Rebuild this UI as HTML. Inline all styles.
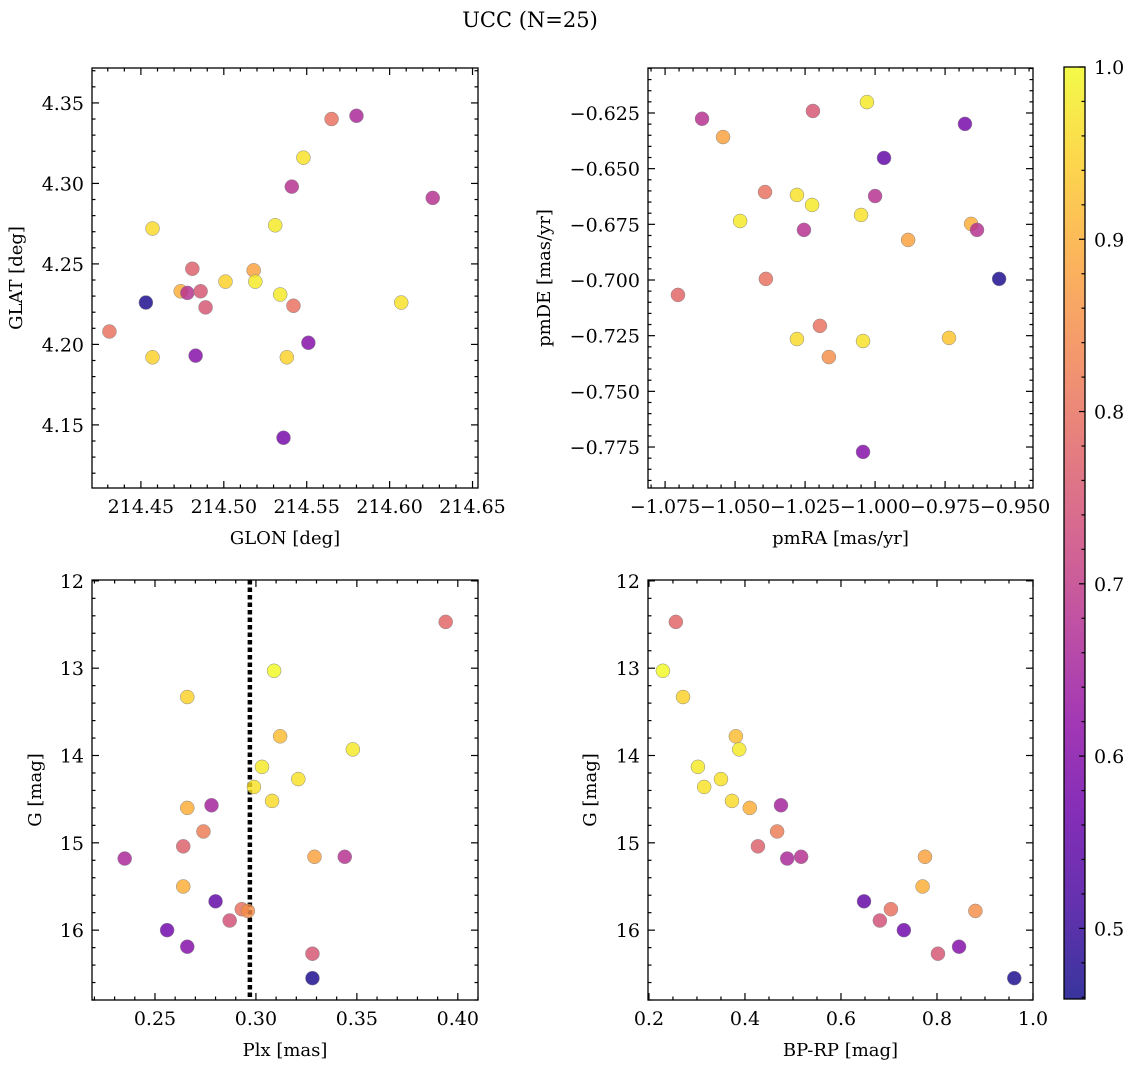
<!DOCTYPE html>
<html><head><meta charset="utf-8"><style>
body{margin:0;background:#fff}
svg{display:block;font-family:"DejaVu Serif","Liberation Serif",serif}
</style></head><body>
<svg id="fig" width="1136" height="1067" viewBox="0 0 1136 1067" xmlns="http://www.w3.org/2000/svg">
<defs><linearGradient id="cbg" x1="0" y1="1" x2="0" y2="0"></linearGradient></defs>
<text x="530" y="27" font-size="21" text-anchor="middle">UCC (N=25)</text>
</svg>
<script>
// ---- data ----
const glon=[214.580,214.565,214.548,214.541,214.626,214.457,214.531,214.481,214.518,214.501,214.519,214.474,214.478,214.486,214.534,214.453,214.607,214.542,214.489,214.431,214.457,214.483,214.538,214.551,214.536];
const glat=[4.342,4.340,4.316,4.298,4.291,4.272,4.274,4.247,4.246,4.239,4.239,4.233,4.232,4.233,4.231,4.226,4.226,4.224,4.223,4.208,4.192,4.193,4.192,4.201,4.142];
const probPos=[0.66,0.80,0.97,0.68,0.68,0.96,0.98,0.77,0.88,0.95,0.98,0.90,0.68,0.75,0.98,0.47,0.97,0.80,0.75,0.80,0.95,0.60,0.95,0.60,0.58];
const pmra=[-1.0029,-1.0618,-1.0222,-1.0543,-0.9679,-0.9968,-1.0393,-1.0279,-1.0225,-1.0000,-1.0482,-1.0050,-0.9657,-1.0254,-0.9636,-0.9882,-1.0390,-0.9557,-1.0704,-1.0197,-1.0279,-0.9736,-1.0165,-1.0043,-1.0043];
const pmde=[-0.6201,-0.6276,-0.6241,-0.6358,-0.6299,-0.6452,-0.6605,-0.6618,-0.6663,-0.6623,-0.6735,-0.6708,-0.6748,-0.6775,-0.6775,-0.6820,-0.6995,-0.6995,-0.7067,-0.7206,-0.7265,-0.7260,-0.7346,-0.7274,-0.7772];
const probPm=[0.98,0.68,0.75,0.88,0.58,0.55,0.80,0.97,0.98,0.68,0.98,0.97,0.90,0.68,0.68,0.88,0.80,0.47,0.78,0.80,0.96,0.93,0.85,0.97,0.60];
const plx=[0.394,0.309,0.266,0.312,0.348,0.303,0.321,0.299,0.308,0.278,0.266,0.274,0.264,0.344,0.329,0.235,0.264,0.280,0.293,0.296,0.287,0.256,0.266,0.328,0.328];
const gmag=[12.47,13.03,13.33,13.78,13.93,14.13,14.27,14.36,14.52,14.57,14.60,14.87,15.04,15.16,15.16,15.18,15.50,15.67,15.76,15.78,15.89,16.00,16.19,16.27,16.55];
const bprp=[0.256,0.229,0.271,0.381,0.388,0.302,0.350,0.315,0.373,0.475,0.410,0.467,0.427,0.517,0.775,0.488,0.770,0.648,0.704,0.880,0.681,0.731,0.846,0.802,0.961];
const probPhot=[0.78,1.0,0.95,0.92,0.98,0.98,0.97,0.97,0.96,0.65,0.90,0.82,0.77,0.68,0.88,0.66,0.90,0.55,0.80,0.85,0.74,0.57,0.60,0.75,0.47];
const plxLine=0.297;
const vmin=0.459, vmax=1.0;

const NS="http://www.w3.org/2000/svg";
const svg=document.getElementById('fig');
function el(tag,attrs,parent){const e=document.createElementNS(NS,tag);for(const k in attrs)e.setAttribute(k,attrs[k]);(parent||svg).appendChild(e);return e;}
const stops=[[13,8,135],[65,4,157],[106,0,168],[143,13,164],[177,42,144],[204,71,120],[225,100,98],[242,132,75],[252,166,54],[252,206,37],[240,249,33]];
function plasma(v){let t=(v-vmin)/(vmax-vmin);t=Math.max(0,Math.min(1,t))*10;const i=Math.min(9,Math.floor(t)),f=t-i;const a=stops[i],b=stops[i+1];return 'rgb('+a.map((c,k)=>Math.round(c+(b[k]-c)*f)).join(',')+')';}
function fmt(v,d){let s=v.toFixed(d);if(v<-1e-9)s='\u2212'+s.slice(1);return s;}

function panel(o){
  const g=el('g',{});
  
  
  const X=v=>o.x0+(v-o.xmin)/(o.xmax-o.xmin)*(o.x1-o.x0);
  const Y=v=>o.inv? o.y0+(v-o.ymin)/(o.ymax-o.ymin)*(o.y1-o.y0) : o.y1-(v-o.ymin)/(o.ymax-o.ymin)*(o.y1-o.y0);
  const eps=1e-9;
  for(let v=Math.ceil(o.xmin/o.xminor-eps)*o.xminor;v<=o.xmax+eps;v+=o.xminor){
    const px=X(v);const maj=Math.abs(v/o.xmajor-Math.round(v/o.xmajor))<1e-6;const L=maj?7:3.5;
    el('line',{x1:px,x2:px,y1:o.y1,y2:o.y1-L,stroke:'#000','stroke-width':1.2},g);
    el('line',{x1:px,x2:px,y1:o.y0,y2:o.y0+L,stroke:'#000','stroke-width':1.2},g);
    if(maj){const t=el('text',{x:px,y:o.y1+25,'font-size':19,'text-anchor':'middle'},g);t.textContent=fmt(v,o.xd);}
  }
  for(let v=Math.ceil(o.ymin/o.yminor-eps)*o.yminor;v<=o.ymax+eps;v+=o.yminor){
    const py=Y(v);const maj=Math.abs(v/o.ymajor-Math.round(v/o.ymajor))<1e-6;const L=maj?7:3.5;
    el('line',{x1:o.x0,x2:o.x0+L,y1:py,y2:py,stroke:'#000','stroke-width':1.2},g);
    el('line',{x1:o.x1,x2:o.x1-L,y1:py,y2:py,stroke:'#000','stroke-width':1.2},g);
    if(maj){const t=el('text',{x:o.x0-8,y:py+7,'font-size':19,'text-anchor':'end'},g);t.textContent=fmt(v,o.yd);}
  }
  if(o.vline!==undefined){const l=el('line',{x1:X(o.vline),x2:X(o.vline),y1:o.y0,y2:o.y1,stroke:'#000','stroke-width':4.5,'stroke-dasharray':'4.5,3'},g);}
  for(let i=0;i<o.xs.length;i++){
    const c=el('circle',{cx:X(o.xs[i]),cy:Y(o.ys[i]),r:7,fill:plasma(o.cs[i]),'fill-opacity':0.82,stroke:'#888','stroke-width':0.5},g);
    
    
  }
  const fr=el('rect',{x:o.x0,y:o.y0,width:o.x1-o.x0,height:o.y1-o.y0,fill:'none',stroke:'#000','stroke-width':1.3},g);
  
  const xl=el('text',{x:(o.x0+o.x1)/2,y:o.y1+56,'font-size':18,'text-anchor':'middle'},g);xl.textContent=o.xlabel;
  
  const yx=o.ylx,yy=(o.y0+o.y1)/2;
  const yl=el('text',{x:yx,y:yy,'font-size':18,'text-anchor':'middle',transform:'rotate(-90 '+yx+' '+yy+')'},g);yl.textContent=o.ylabel;
  
}
panel({name:'glon-glat-panel',x0:92,x1:478,y0:68,y1:488,xmin:214.4205,xmax:214.6533,ymin:4.1108,ymax:4.3717,xmajor:0.05,xminor:0.01,ymajor:0.05,yminor:0.01,xd:2,yd:2,xs:glon,ys:glat,cs:probPos,xlabel:'GLON [deg]',ylabel:'GLAT [deg]',ylx:22});
panel({name:'proper-motion-panel',x0:648,x1:1033,y0:68,y1:488,xmin:-1.0811,xmax:-0.9436,ymin:-0.7934,ymax:-0.6048,xmajor:0.025,xminor:0.005,ymajor:0.025,yminor:0.005,xd:3,yd:3,xs:pmra,ys:pmde,cs:probPm,xlabel:'pmRA [mas/yr]',ylabel:'pmDE [mas/yr]',ylx:550});
panel({name:'parallax-magnitude-panel',x0:92,x1:478,y0:580,y1:1000,xmin:0.2188,xmax:0.4100,ymin:11.99,ymax:16.80,inv:true,xmajor:0.05,xminor:0.01,ymajor:1,yminor:0.2,xd:2,yd:0,xs:plx,ys:gmag,cs:probPhot,xlabel:'Plx [mas]',ylabel:'G [mag]',ylx:41,vline:plxLine});
panel({name:'color-magnitude-panel',x0:648,x1:1033,y0:580,y1:1000,xmin:0.198,xmax:1.0,ymin:11.99,ymax:16.80,inv:true,xmajor:0.2,xminor:0.05,ymajor:1,yminor:0.2,xd:1,yd:0,xs:bprp,ys:gmag,cs:probPhot,xlabel:'BP-RP [mag]',ylabel:'G [mag]',ylx:596});
const grad=document.getElementById('cbg');
for(let k=0;k<=20;k++){const v=vmin+(vmax-vmin)*k/20;el('stop',{offset:(k/20),'stop-color':plasma(v),'stop-opacity':0.82},grad);}
const cb=el('g',{});
const cx0=1064,cx1=1085,cy0=67,cy1=999;
el('rect',{x:cx0,y:cy0,width:cx1-cx0,height:cy1-cy0,fill:'url(#cbg)',stroke:'#000','stroke-width':1.3},cb);
const CY=v=>cy1-(v-vmin)/(vmax-vmin)*(cy1-cy0);
for(let v=0.46;v<=1.0001;v+=0.02){const py=CY(v);const maj=Math.abs(v*10-Math.round(v*10))<1e-6;
  el('line',{x1:cx1,x2:cx1-(maj?6:3.5),y1:py,y2:py,stroke:'#000','stroke-width':1.2},cb);
  if(maj){const t=el('text',{x:cx1+9,y:py+7,'font-size':19},cb);t.textContent=v.toFixed(1);}}
</script>
</body></html>
